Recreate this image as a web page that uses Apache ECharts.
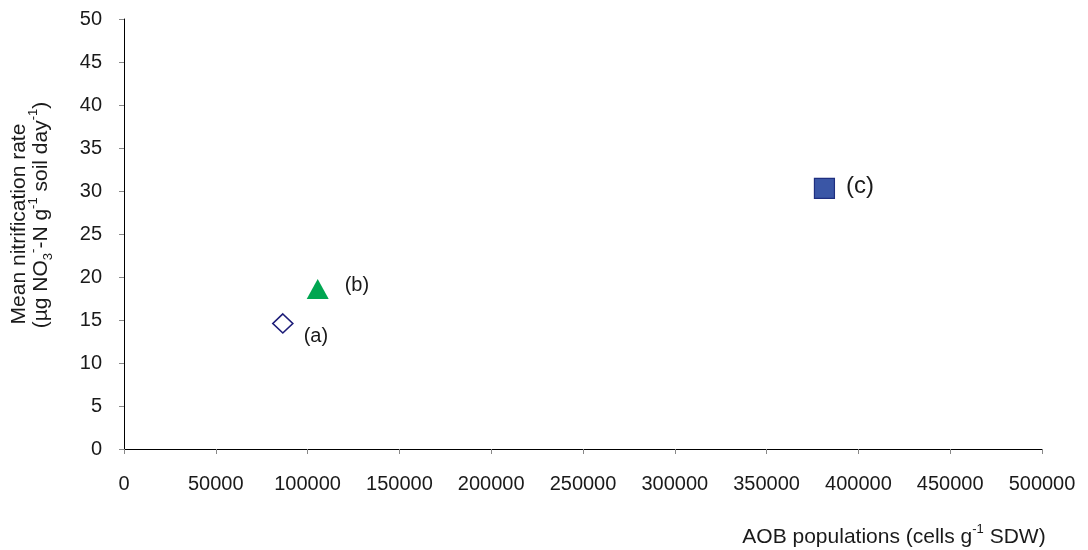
<!DOCTYPE html>
<html>
<head>
<meta charset="utf-8">
<script src="https://cdn.jsdelivr.net/npm/echarts@6/dist/echarts.min.js"></script>
<style>html,body{margin:0;padding:0;background:#fff;}#c{width:1088px;height:550px;}</style>
</head>
<body>
<div id="c"></div>
<script>
// Data
const sampleLabels = ['(a)', '(b)', '(c)'];
const aobPopulations = [86500, 105500, 381500];      // cells g-1 SDW
const nitrificationRates = [14.6, 18.6, 30.3];       // µg NO3--N g-1 soil day-1
const xTicks = [0, 500000, 50000];                   // min, max, interval
const yTicks = [0, 50, 5];

const FONT = 'Liberation Sans, Arial, Helvetica, sans-serif';
const TXT = '#1a1a1a';

const styles = [
  {symbol: 'diamond', size: [20, 19], item: {color: '#ffffff', borderColor: '#1c1c78', borderWidth: 1.6, opacity: 1},
   label: {distance: 10, offset: [0, 13], fontSize: 20}},
  {symbol: 'triangle', size: [22, 20], item: {color: '#00a651', borderWidth: 0, opacity: 1},
   label: {distance: 16, offset: [0, -4], fontSize: 20}},
  {symbol: 'rect', size: [20, 20], item: {color: '#3a56a6', borderColor: '#1f2f80', borderWidth: 1.2, opacity: 1},
   label: {distance: 11, offset: [0, -2], fontSize: 24}}
];

const series = sampleLabels.map((lab, i) => ({
  type: 'scatter',
  name: lab,
  symbol: styles[i].symbol,
  symbolSize: styles[i].size,
  itemStyle: styles[i].item,
  data: [[aobPopulations[i], nitrificationRates[i]]],
  label: {
    show: true, position: 'right', formatter: lab,
    distance: styles[i].label.distance, offset: styles[i].label.offset,
    fontSize: styles[i].label.fontSize, fontFamily: FONT, color: TXT, opacity: 1
  },
  emphasis: {disabled: true},
  z: 3
}));

const chart = echarts.init(document.getElementById('c'), null, {renderer: 'canvas'});
chart.setOption({
  animation: false,
  backgroundColor: '#ffffff',
  grid: {left: 124, right: 46, top: 19, bottom: 101, containLabel: false},
  xAxis: {
    type: 'value', min: xTicks[0], max: xTicks[1], interval: xTicks[2],
    axisLine: {show: true, lineStyle: {color: '#000', width: 1}},
    axisTick: {show: true, length: 5, lineStyle: {color: '#888'}},
    splitLine: {show: false},
    axisLabel: {fontSize: 20, fontFamily: FONT, color: TXT, margin: 25,
      formatter: v => String(v)}
  },
  yAxis: {
    type: 'value', min: yTicks[0], max: yTicks[1], interval: yTicks[2],
    axisLine: {show: true, lineStyle: {color: '#000', width: 1}},
    axisTick: {show: true, length: 5, lineStyle: {color: '#888'}},
    splitLine: {show: false},
    axisLabel: {fontSize: 20, fontFamily: FONT, color: TXT, margin: 22,
      formatter: v => String(v)}
  },
  graphic: [
    {
      type: 'text', x: 19, y: 224, rotation: Math.PI / 2,
      style: {text: 'Mean nitrification rate', font: '21px ' + FONT, fill: TXT,
        align: 'center', verticalAlign: 'middle'}
    },
    {
      type: 'text', x: 41, y: 215, rotation: Math.PI / 2,
      style: {
        text: '{n|(µg NO}{sub|3}{sup|-}{n|-N g}{sup|-1}{n| soil day}{sup|-1}{n|)}',
        font: '21px ' + FONT, fill: TXT, align: 'center', verticalAlign: 'middle',
        rich: {
          n: {fontSize: 21, fontFamily: FONT, fill: TXT, lineHeight: 28, verticalAlign: 'middle'},
          sub: {fontSize: 13, fontFamily: FONT, fill: TXT, lineHeight: 28, verticalAlign: 'bottom'},
          sup: {fontSize: 13, fontFamily: FONT, fill: TXT, lineHeight: 28, verticalAlign: 'top'}
        }
      }
    },
    {
      type: 'text', x: 894, y: 537,
      style: {
        text: '{n|AOB populations (cells g}{sup|-1}{n| SDW)}',
        font: '21px ' + FONT, fill: TXT, align: 'center', verticalAlign: 'middle',
        rich: {
          n: {fontSize: 21, fontFamily: FONT, fill: TXT, lineHeight: 28, verticalAlign: 'middle'},
          sup: {fontSize: 13, fontFamily: FONT, fill: TXT, lineHeight: 28, verticalAlign: 'top'}
        }
      }
    }
  ],
  series: series
});
</script>
</body>
</html>
